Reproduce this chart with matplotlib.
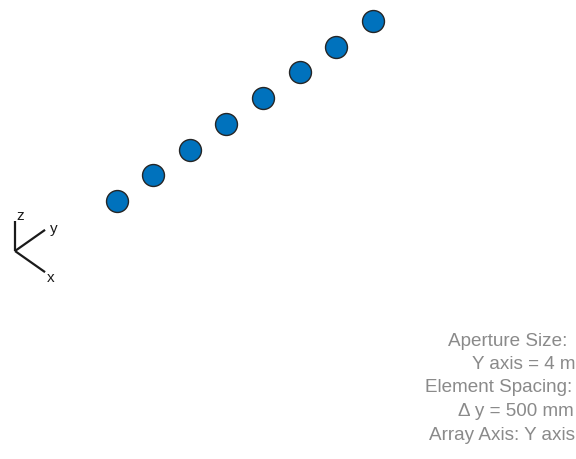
import numpy as np
import matplotlib.pyplot as plt

# ULA, 8 elements along y, 0.5 m spacing
elem_y = [-1.75, -1.25, -0.75, -0.25, 0.25, 0.75, 1.25, 1.75]
elem_x = [0, 0, 0, 0, 0, 0, 0, 0]
elem_z = [0, 0, 0, 0, 0, 0, 0, 0]

info_lines = ["Aperture Size:", "Y axis = 4 m", "Element Spacing:",
              "\u0394 y = 500 mm", "Array Axis: Y axis"]

W, H = 576, 459
elev = np.deg2rad(44.7)


def project(x, y, z):
    # orthographic view, azimuth 45 deg between x and y
    x = np.asarray(x, float); y = np.asarray(y, float); z = np.asarray(z, float)
    u = (x + y) * np.cos(np.pi / 4)
    v = (y - x) * np.sin(np.pi / 4) * np.sin(elev) + z * np.cos(elev)
    return u, v


fig = plt.figure(figsize=(W / 100, H / 100), dpi=100)

# main view, metres on screen
k = 103.4  # px per metre
cx, cy = 244.7, 111.0
ax = fig.add_axes([0, 0, 1, 1])
ax.set_xlim(-cx / k, (W - cx) / k)
ax.set_ylim(-(H - cy) / k, cy / k)
ax.axis("off")

u, v = project(elem_x, elem_y, elem_z)
ax.plot(u, v, "o", ms=15.8, mfc="#0072BD", mec="#262626", mew=1.0, ls="none")

# overlay in pixel coordinates for the triad and text
ov = fig.add_axes([0, 0, 1, 1])
ov.set_xlim(0, W)
ov.set_ylim(H, 0)
ov.axis("off")
ov.patch.set_alpha(0)

ox, oy, L = 15, 251, 42.5
for vec, lab, off in [((1, 0, 0), "x", (6, 6)),
                      ((0, 1, 0), "y", (9, -1)),
                      ((0, 0, 1), "z", (5, -5))]:
    du, dv = project(*vec)
    ex, ey = ox + L * du, oy - L * dv
    ov.plot([ox, ex], [oy, ey], color="#1a1a1a", lw=1.6, solid_capstyle="butt")
    ov.text(ex + off[0], ey + off[1], lab, fontsize=11, color="#1a1a1a",
            ha="center", va="center", family="Liberation Sans")

rights = [567, 575, 572, 574, 575]
ys = [341, 364.5, 388, 411.5, 435]
for txt, rx, ty in zip(info_lines, rights, ys):
    ov.text(rx, ty, txt, fontsize=13.6, color="#8a8a8a", ha="right",
            va="center", family="Liberation Sans")

fig.savefig("out.png", dpi=100)
